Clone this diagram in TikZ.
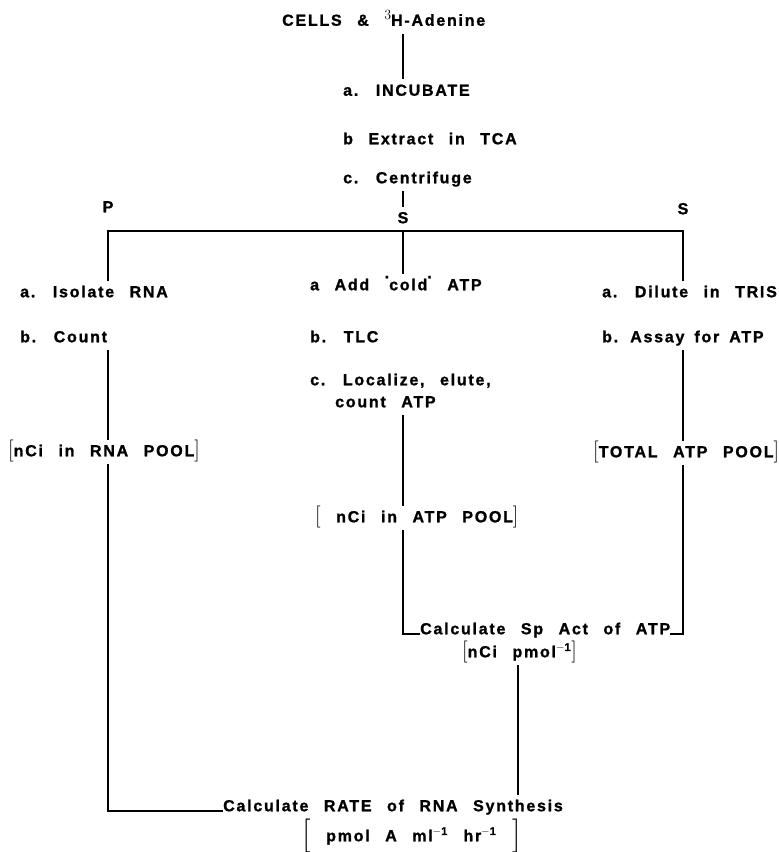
\documentclass[tikz,border=0pt]{standalone}
\usepackage{fontspec}
\newfontfamily\labfont{Liberation Sans}[UprightFont={* Bold},FakeBold=1.2,LetterSpace=11,WordSpace=2.5]
\newcommand{\bkt}[2]{{\normalfont\fontsize{#1}{#1}\selectfont#2}}
\newcommand{\updot}{\raisebox{12pt}{.}}

\begin{document}
\begin{tikzpicture}[x=1pt, y=-1pt,
    lab/.style={font=\labfont\fontsize{16}{19}\selectfont, anchor=west, inner xsep=0pt, inner ysep=5pt, text height=11.5pt, text depth=3pt},
    tag/.style={lab, anchor=center},
    ln/.style={line width=2pt}
]
\useasboundingbox (0,0) rectangle (779,852);
% columns of the tree
\coordinate (colL) at (108,231);
\coordinate (colM) at (403,231);
\coordinate (colR) at (683,231);
\coordinate (colS) at (518,0);

% top steps
\node[lab] (cells) at (282,21.5) {CELLS \& \raisebox{6pt}{\bkt{14}{3}}H-Adenine};
\node[lab] (incub) at (343,91.5) {a. INCUBATE};
\node[lab] (extract) at (343,140) {b Extract in TCA};
\node[lab] (centri) at (343,179) {c. Centrifuge};

\node[tag] (pLeft) at (108,208) {P};
\node[tag] (sMid) at (403,219) {S};
\node[tag] (sRight) at (683,210) {S};

% left branch
\node[lab] (isolate) at (20,293) {a. Isolate RNA};
\node[lab] (count) at (20,338) {b. Count};
\node[lab] (rnapool) at (8,452) {\bkt{22}{[}nCi in RNA POOL\bkt{22}{]}};

% middle branch
\node[lab] (addcold) at (310,286) {a Add \updot cold\updot\ ATP};
\node[lab] (tlc) at (310,338) {b. TLC};
\node[lab] (localize) at (310,381) {c. Localize, elute,};
\node[lab] (countatp) at (335,403) {count ATP};
\node[lab] (atppool) at (315,518) {\bkt{22}{[} nCi in ATP POOL\bkt{22}{]}};

% right branch
\node[lab] (dilute) at (602,293) {a. Dilute in TRIS};
\node[lab] (assay) at (602,338) {\spaceskip=10pt b. Assay for ATP};
\node[lab] (totalpool) at (593,453) {\bkt{22}{[}TOTAL ATP POOL\bkt{22}{]}};

% results
\node[lab] (calcsp) at (420,630) {Calculate Sp Act of ATP};
\node[lab] (spunit) at (462,653) {\bkt{22}{[}nCi pmol\textsuperscript{$-$1}\bkt{22}{]}};
\node[lab] (calcrate) at (223,807) {Calculate RATE of RNA Synthesis};
\node[lab] (rateunit) at (302,837) {\raisebox{-3pt}{\bkt{34}{[}} pmol A ml\textsuperscript{$-$1} hr\textsuperscript{$-$1} \raisebox{-3pt}{\bkt{34}{]}}};

% connectors
\draw[ln] (cells.south -| colM) -- (incub.north -| colM);
\draw[ln] (centri.south -| colM) -- (sMid.north);
\draw[ln] (isolate.north -| colL) -- (colL) -- (colR) -- (dilute.north -| colR);
\draw[ln] (sMid.south) -- (addcold.north -| colM);
\draw[ln] (count.south -| colL) -- (rnapool.north -| colL);
\draw[ln] (rnapool.south -| colL) |- (calcrate.base west);
\draw[ln] (countatp.south -| colM) -- (atppool.north -| colM);
\draw[ln] (atppool.south -| colM) |- (calcsp.base west);
\draw[ln] (assay.south -| colR) -- (totalpool.north -| colR);
\draw[ln] (calcsp.base east) -| (totalpool.south -| colR);
\draw[ln] (spunit.south -| colS) -- (calcrate.north -| colS);
\end{tikzpicture}
\end{document}
